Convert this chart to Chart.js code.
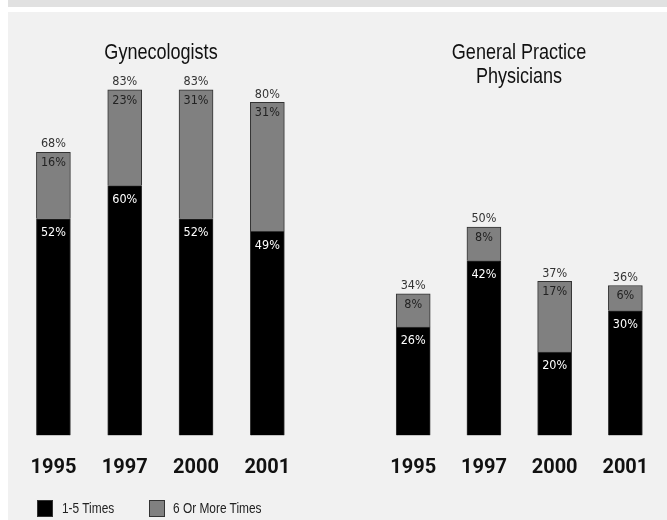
<!DOCTYPE html>
<html>
<head>
<meta charset="utf-8">
<script src="https://cdn.jsdelivr.net/npm/chart.js@4.4.1/dist/chart.umd.min.js"></script>
<style>
  body { margin: 0; background: #fff; }
  #wrap { position: relative; width: 667px; height: 520px; overflow: hidden; }
  #band { position: absolute; left: 8px; top: 0; width: 659px; height: 7px; background: #e1e1e1; }
  #panel { position: absolute; left: 8px; top: 12px; width: 659px; height: 508px; background: #f1f1f1; }
  canvas { position: absolute; left: 0; top: 0; }
  .narrow {
    position: absolute; white-space: nowrap; color: #111;
    font-family: "Liberation Sans", Arial, sans-serif;
    transform: scaleX(0.82);
  }
  .title { font-size: 22px; line-height: 24px; text-align: center; width: 240px; transform-origin: 120px 0; }
  .legend-box { position: absolute; width: 14px; height: 15px; border: 1px solid #333; }
  .legend-text { font-size: 14.5px; line-height: 16px; color: #222; transform-origin: 0 0; }
</style>
</head>
<body>
<div id="wrap">
  <div id="band"></div>
  <div id="panel"></div>
  <canvas id="gynChart" width="667" height="520"></canvas>
  <canvas id="gpChart" width="667" height="520"></canvas>
  <div class="narrow title" style="left:41px;top:40px;">Gynecologists</div>
  <div class="narrow title" style="left:399px;top:40px;">General Practice<br>Physicians</div>
  <div id="legend-container"></div>
</div>
<script>
const years = ["1995", "1997", "2000", "2001"];
const seriesNames = ["1-5 Times", "6 Or More Times"];
const seriesColors = ["#000000", "#808080"];

const gynLow = [52, 60, 52, 49];
const gynHigh = [16, 23, 31, 31];
const gynTotal = [68, 83, 83, 80];

const gpLow = [26, 42, 20, 30];
const gpHigh = [8, 8, 17, 6];
const gpTotal = [34, 50, 37, 36];

const labelFont = '12.5px "DejaVu Sans Condensed", "DejaVu Sans", sans-serif';

// value labels: segment value near top of each segment, total above the stack
const barLabels = {
  id: "barLabels",
  afterDatasetsDraw(chart, args, options) {
    const { ctx } = chart;
    ctx.save();
    ctx.font = labelFont;
    ctx.textAlign = "center";
    ctx.textBaseline = "middle";
    chart.data.datasets.forEach((dataset, i) => {
      chart.getDatasetMeta(i).data.forEach((bar, index) => {
        ctx.fillStyle = i == 0 ? "#ffffff" : "#222222";
        ctx.fillText(dataset.data[index] + "%", bar.x, bar.y + (i == 0 ? 14 : 10.5));
      });
    });
    const top = chart.getDatasetMeta(1).data;
    options.totals.forEach((t, index) => {
      ctx.fillStyle = "#333333";
      ctx.fillText(t + "%", top[index].x, top[index].y - 8);
    });
    ctx.restore();
  },
};

function makeChart(id, low, high, totals, padLeft, padRight) {
  return new Chart(document.getElementById(id), {
    type: "bar",
    data: {
      labels: years,
      datasets: [
        { label: seriesNames[0], data: low, backgroundColor: seriesColors[0] },
        { label: seriesNames[1], data: high, backgroundColor: seriesColors[1] },
      ],
    },
    options: {
      responsive: false,
      animation: false,
      events: [],
      layout: { padding: { left: padLeft, right: padRight, top: 19, bottom: 18.6 } },
      datasets: {
        bar: { barThickness: 34, borderWidth: 1, borderColor: "#333333" },
      },
      scales: {
        x: {
          stacked: true,
          grid: { display: false, drawTicks: false },
          border: { display: false },
          ticks: {
            padding: 18,
            color: "#111",
            font: { family: "Roboto, sans-serif", size: 20, weight: "bold", lineHeight: 1.5 },
          },
        },
        y: { stacked: true, display: false, min: 0, max: 100 },
      },
      plugins: {
        legend: { display: false },
        tooltip: { enabled: false },
        barLabels: { totals: totals },
      },
    },
    plugins: [barLabels],
  });
}

const gynChart = makeChart("gynChart", gynLow, gynHigh, gynTotal, 17.75, 667 - 303);
const gpChart = makeChart("gpChart", gpLow, gpHigh, gpTotal, 377.85, 667 - 661.5);

// legend built from the dataset names/colours
const legend = document.getElementById("legend-container");
const boxX = [37, 149];
const textX = [62, 173];
gynChart.data.datasets.forEach((ds, i) => {
  const box = document.createElement("div");
  box.className = "legend-box";
  box.style.background = ds.backgroundColor;
  box.style.left = boxX[i] + "px";
  box.style.top = "500px";
  const text = document.createElement("div");
  text.className = "narrow legend-text";
  text.style.left = textX[i] + "px";
  text.style.top = "500px";
  text.appendChild(document.createTextNode(ds.label));
  legend.appendChild(box);
  legend.appendChild(text);
});
</script>
</body>
</html>
